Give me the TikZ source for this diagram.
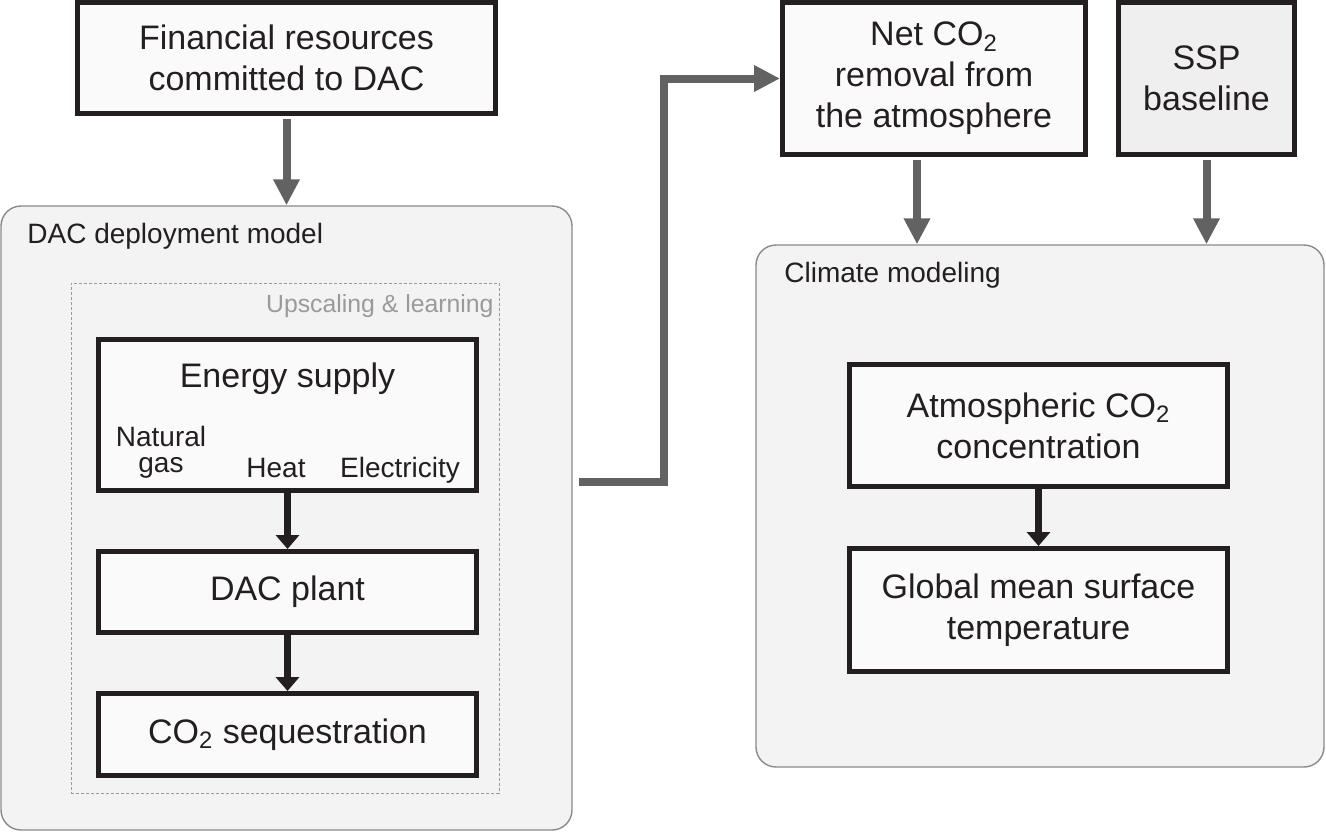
\documentclass[tikz,border=0pt]{standalone}
\usepackage{fontspec}
\setmainfont{Liberation Sans}
\usetikzlibrary{arrows.meta}

\definecolor{ink}{HTML}{231F20}
\definecolor{boxfill}{HTML}{FAFAFA}
\definecolor{sspfill}{HTML}{EFEFEF}
\definecolor{panelfill}{HTML}{F3F3F3}
\definecolor{panelline}{HTML}{8A8A8A}
\definecolor{flowgray}{HTML}{626262}
\definecolor{labelgray}{HTML}{9A9A9A}

\begin{document}
\begin{tikzpicture}[x=0.5pt,y=-0.5pt,
    panelbox/.style={draw=panelline,line width=0.7pt,fill=panelfill,rounded corners=10pt},
    blockbox/.style={draw=ink,line width=2.5pt,fill=boxfill,text=ink,align=center,inner sep=0pt,
      font=\fontsize{17}{20.5}\selectfont},
    smalltext/.style={text=ink,inner sep=0pt,font=\fontsize{14}{13}\selectfont},
    flowarrow/.style={draw=flowgray,line width=4pt,-{Triangle[width=12.5pt,length=13pt]}},
    steparrow/.style={draw=ink,line width=3.75pt,-{Triangle[width=11.5pt,length=7pt]}}]
    \useasboundingbox (0,0) rectangle (1326,832);

    % the two model panels
    \node[panelbox,minimum width=285.5pt,minimum height=312pt] (dacpanel) at (286.5,518) {};
    \node[panelbox,minimum width=284pt,minimum height=261pt] (climpanel) at (1040,506) {};
    \node[draw=labelgray,line width=0.5pt,dash pattern=on 1.5pt off 1pt,
      minimum width=214pt,minimum height=255pt] (upscale) at (285,538) {};

    \node[smalltext,anchor=base west] (daclabel) at (27,243) {DAC deployment model};
    \node[smalltext,anchor=base east,text=labelgray,font=\fontsize{12.4}{14}\selectfont] (upscalelabel) at (494,312) {Upscaling \& learning};
    \node[smalltext,anchor=base west] (climlabel) at (784,282) {Climate modeling};

    % boxes on top
    \node[blockbox,minimum width=209pt,minimum height=55.5pt] (fin) at (286.5,58) {Financial resources\\committed to DAC};
    \node[blockbox,minimum width=151.5pt,minimum height=76pt] (net) at (934,78.5) {Net CO\textsubscript{2}\\removal from\\the atmosphere};
    \node[blockbox,fill=sspfill,minimum width=88pt,minimum height=76pt] (ssp) at (1206.5,78.5) {SSP\\baseline};

    % deployment chain
    \node[blockbox,minimum width=189pt,minimum height=75.5pt] (energy) at (287.5,415) {};
    \node[text=ink,inner sep=0pt,anchor=base,font=\fontsize{17}{20.5}\selectfont] (energylabel) at (287.5,387) {Energy supply};
    \node[smalltext,align=center] (gas) at (161,452) {Natural\\gas};
    \node[smalltext,anchor=base] (heat) at (276,477) {Heat};
    \node[smalltext,anchor=base] (elec) at (400,477) {Electricity};
    \node[blockbox,minimum width=189pt,minimum height=40.5pt] (plant) at (287.5,592) {DAC plant};
    \node[blockbox,minimum width=189pt,minimum height=41pt] (seq) at (287.5,734.5) {CO\textsubscript{2} sequestration};

    % climate chain
    \node[blockbox,minimum width=189pt,minimum height=61pt] (atmo) at (1038.5,425.5) {Atmospheric CO\textsubscript{2}\\concentration};
    \node[blockbox,minimum width=189pt,minimum height=61.5pt] (gmst) at (1038.5,610) {Global mean surface\\temperature};

    \draw[steparrow] (energy.south) -- (plant.north);
    \draw[steparrow] (plant.south) -- (seq.north);
    \draw[steparrow] (atmo.south) -- (gmst.north);

    \draw[flowarrow] ([yshift=-1.5pt]fin.south) -- (fin.south |- dacpanel.north);
    \draw[flowarrow] ([xshift=-8.5pt,yshift=-1.5pt]net.south) -- ([xshift=-8.5pt]net.south |- climpanel.north);
    \draw[flowarrow] ([yshift=-1.5pt]ssp.south) -- (ssp.south |- climpanel.north);

    \coordinate (outstart) at (579,481.5);
    \coordinate (bend) at (664,78.5);
    \draw[flowarrow] (outstart) -| (bend) -- (net.west);
\end{tikzpicture}
\end{document}
